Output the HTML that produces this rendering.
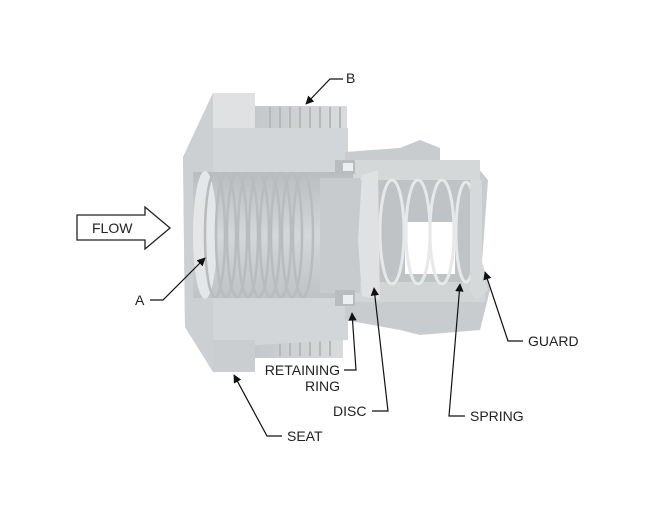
<!DOCTYPE html>
<html><head><style>
body{margin:0;background:#fff;width:650px;height:504px;overflow:hidden}
text{font-family:"Liberation Sans",sans-serif;font-size:14px;fill:#222}
</style></head><body>
<svg width="650" height="504" viewBox="0 0 650 504" xmlns="http://www.w3.org/2000/svg">
<defs>
<marker id="ah" viewBox="0 0 10 10" refX="9" refY="5" markerWidth="7" markerHeight="7" orient="auto"><path d="M0,0L10,5L0,10z" fill="#111"/></marker>
<linearGradient id="bore" x1="0" y1="0" x2="0" y2="1"><stop offset="0" stop-color="#b9bdbf"/><stop offset=".5" stop-color="#d4d7d9"/><stop offset="1" stop-color="#bfc3c5"/></linearGradient>
<linearGradient id="thr" x1="0" y1="0" x2="1" y2="0"><stop offset="0" stop-color="#c5c8ca"/><stop offset="1" stop-color="#d9dbdc"/></linearGradient>
</defs>
<!-- outer threads top/bottom -->
<rect x="255" y="106" width="92" height="24" fill="url(#thr)"/>
<g stroke="#b4b8ba" stroke-width="2">
<line x1="270" y1="107" x2="270" y2="128"/><line x1="280" y1="107" x2="280" y2="128"/><line x1="290" y1="107" x2="290" y2="128"/><line x1="300" y1="107" x2="300" y2="128"/><line x1="310" y1="107" x2="310" y2="128"/><line x1="320" y1="107" x2="320" y2="128"/><line x1="330" y1="107" x2="330" y2="128"/><line x1="340" y1="107" x2="340" y2="128"/>
</g>
<rect x="255" y="338" width="88" height="20" fill="url(#thr)"/>
<g stroke="#b4b8ba" stroke-width="2">
<line x1="280" y1="340" x2="280" y2="356"/><line x1="290" y1="340" x2="290" y2="356"/><line x1="300" y1="340" x2="300" y2="356"/><line x1="310" y1="340" x2="310" y2="356"/><line x1="320" y1="340" x2="320" y2="356"/><line x1="330" y1="340" x2="330" y2="356"/>
</g>
<!-- hex body -->
<polygon points="213,93 255,93 255,128 348,128 348,340 255,345 255,372 213,372 185,327 183,157" fill="#d3d6d8"/>
<polygon points="213,93 255,93 255,128 213,128" fill="#dfe1e2"/>
<polygon points="213,93 213,372 185,327 183,157" fill="#cdd0d2"/>
<polygon points="213,340 255,340 255,372 213,372" fill="#cbced0"/>
<!-- guard -->
<polygon points="345,152 400,148 420,140 440,148 440,162 478,168 488,180 482,262 490,290 480,330 420,335 400,330 345,320" fill="#c9ccce"/>
<rect x="350" y="160" width="130" height="20" fill="#d5d8d9"/>
<rect x="350" y="282" width="135" height="20" fill="#d2d5d6"/>
<!-- bore -->
<rect x="193" y="172" width="160" height="126" fill="url(#bore)"/>
<ellipse cx="205" cy="235" rx="12" ry="64" fill="#e4e6e7"/>
<g fill="none" stroke="#b8bcbe" stroke-width="2.5">
<ellipse cx="215" cy="235" rx="10" ry="62"/><ellipse cx="226" cy="235" rx="10" ry="62"/><ellipse cx="237" cy="235" rx="10" ry="62"/><ellipse cx="248" cy="235" rx="10" ry="62"/><ellipse cx="259" cy="235" rx="10" ry="62"/><ellipse cx="270" cy="235" rx="10" ry="62"/><ellipse cx="281" cy="235" rx="10" ry="62"/><ellipse cx="292" cy="235" rx="10" ry="62"/><ellipse cx="303" cy="235" rx="10" ry="62"/>
</g>
<rect x="320" y="178" width="40" height="115" fill="#c8cbcd"/>
<!-- guard interior -->
<rect x="378" y="180" width="100" height="102" fill="#bfc3c5"/>
<rect x="405" y="222" width="50" height="52" fill="#fff"/>
<g fill="none" stroke="#e6e8e9" stroke-width="3">
<ellipse cx="392" cy="232" rx="12" ry="52"/><ellipse cx="418" cy="232" rx="12" ry="52"/><ellipse cx="442" cy="232" rx="12" ry="52"/><ellipse cx="466" cy="232" rx="10" ry="50"/>
</g>
<!-- disc -->
<polygon points="362,175 378,170 380,300 362,296 358,240" fill="#dfe1e2"/>
<!-- guard face -->
<polygon points="470,180 482,180 482,262 488,290 476,300 470,290" fill="#d6d9da"/>
<!-- retaining ring -->
<rect x="335" y="160" width="20" height="14" fill="#b8bcbe"/><rect x="343" y="163" width="10" height="8" fill="#eceeef"/>
<rect x="335" y="290" width="20" height="16" fill="#b8bcbe"/><rect x="343" y="295" width="10" height="9" fill="#eceeef"/>
<!-- FLOW arrow -->
<polygon points="77,215 145,215 145,207 170,228 145,249 145,240 77,240" fill="#fff" stroke="#222" stroke-width="1.3"/>
<text x="92" y="233">FLOW</text>
<!-- labels -->
<g stroke="#111" stroke-width="1.2" fill="none">
<polyline points="343,79 330,79 306,104" marker-end="url(#ah)"/>
<polyline points="150,300 163,300 205,258" marker-end="url(#ah)"/>
<polyline points="282,436 267,436 234,375" marker-end="url(#ah)"/>
<polyline points="344,370 356,370 352,313" marker-end="url(#ah)"/>
<polyline points="372,411 388,411 374,288" marker-end="url(#ah)"/>
<polyline points="465,416 449,416 460,284" marker-end="url(#ah)"/>
<polyline points="523,341 508,341 485,272" marker-end="url(#ah)"/>
</g>
<text x="346" y="83">B</text>
<text x="135" y="305">A</text>
<text x="287" y="441">SEAT</text>
<text x="340" y="375" text-anchor="end">RETAINING</text>
<text x="340" y="391" text-anchor="end">RING</text>
<text x="333" y="416">DISC</text>
<text x="470" y="421">SPRING</text>
<text x="528" y="346">GUARD</text>
</svg>
</body></html>
